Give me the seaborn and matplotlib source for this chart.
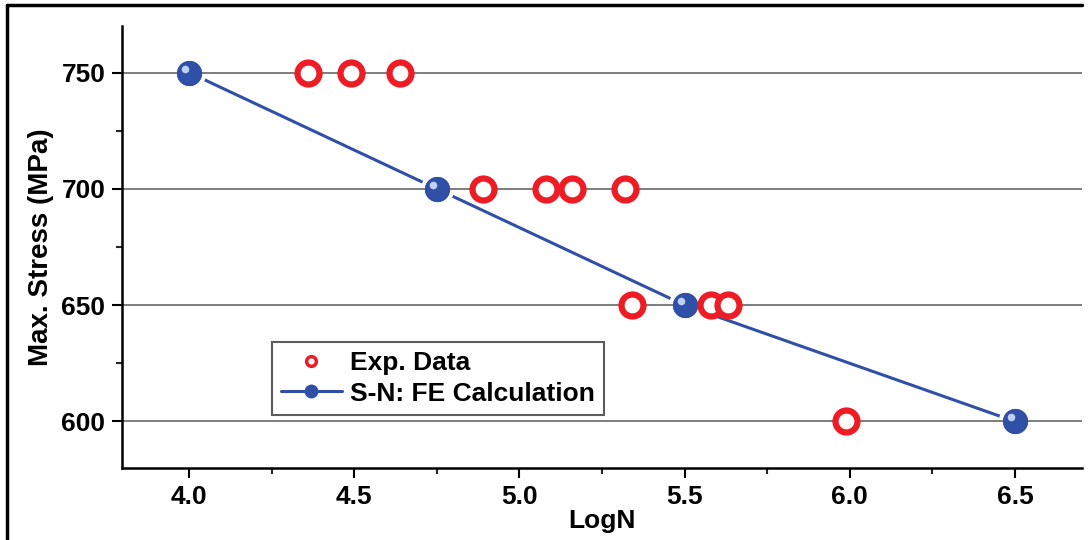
import numpy as np
import pandas as pd
import matplotlib
matplotlib.use("Agg")
import matplotlib.pyplot as plt
from matplotlib.lines import Line2D
from matplotlib.ticker import MultipleLocator, FormatStrFormatter
from matplotlib.transforms import offset_copy
import seaborn as sns

sns.set_theme(style="white")
plt.rcParams['font.family'] = ['Liberation Sans', 'DejaVu Sans']
plt.rcParams['font.weight'] = 'bold'
plt.rcParams['text.color'] = 'black'
plt.rcParams['axes.labelcolor'] = 'black'

# experimental data
exp_logn = [4.36, 4.49, 4.64, 4.89, 5.08, 5.16, 5.32, 5.34, 5.58, 5.63, 5.99]
exp_stress = [750, 750, 750, 700, 700, 700, 700, 650, 650, 650, 600]

# S-N FE calculation
fe_logn = [4.0, 4.75, 5.5, 6.5]
fe_stress = [750, 700, 650, 600]

df_exp = pd.DataFrame({'LogN': exp_logn, 'Stress': exp_stress})
df_fe = pd.DataFrame({'LogN': fe_logn, 'Stress': fe_stress})

W, H = 1092, 540
fig = plt.figure(figsize=(W / 100, H / 100), dpi=100)
ax = fig.add_axes([122 / W, (H - 468) / H, (1082 - 122) / W, (468 - 26) / H])

ax.set_xlim(3.797, 6.703)
ax.set_ylim(580, 770)

blue = '#3050a8'
red = '#ee1c24'

# line with white halo around markers (gap like the original)
sns.lineplot(data=df_fe, x='LogN', y='Stress', ax=ax, color=blue, lw=2.2,
             marker='o', markersize=21, markerfacecolor=blue,
             markeredgecolor='white', markeredgewidth=3, zorder=1, legend=False)

for yv in [600, 650, 700, 750]:
    ax.axhline(yv, color='#7d7d7d', lw=1.4, zorder=1.5)

# balls on top of grid lines
sns.scatterplot(data=df_fe, x='LogN', y='Stress', ax=ax, s=330, marker='o',
                color=blue, edgecolor=blue, linewidth=0, zorder=3, legend=False)
# small highlight on the balls
hl = offset_copy(ax.transData, fig=fig, x=-4, y=4, units='dots')
ax.scatter(df_fe['LogN'], df_fe['Stress'], s=30, color='#c0d0f4', linewidth=0,
           transform=hl, zorder=3.5)

sns.scatterplot(data=df_exp, x='LogN', y='Stress', ax=ax, s=250, marker='o',
                facecolor='white', edgecolor=red, linewidth=4.5, zorder=4, legend=False)

ax.xaxis.set_major_locator(MultipleLocator(0.5))
ax.xaxis.set_minor_locator(MultipleLocator(0.25))
ax.yaxis.set_major_locator(MultipleLocator(50))
ax.yaxis.set_minor_locator(MultipleLocator(25))
ax.xaxis.set_major_formatter(FormatStrFormatter('%.1f'))
ax.tick_params(axis='both', which='major', direction='out', length=7, width=1.5,
               labelsize=19, colors='black', bottom=True, left=True, pad=5)
ax.tick_params(axis='both', which='minor', direction='out', length=4, width=1.5,
               bottom=True, left=True)
for lab in ax.get_xticklabels() + ax.get_yticklabels():
    lab.set_fontweight('bold')

for side in ['top', 'right']:
    ax.spines[side].set_visible(False)
for side in ['left', 'bottom']:
    ax.spines[side].set_color('black')
    ax.spines[side].set_linewidth(1.8)

ax.set_xlabel('LogN', fontsize=19, fontweight='bold', labelpad=0)
ax.set_ylabel('Max. Stress (MPa)', fontsize=20, fontweight='bold', labelpad=5)

handles = [
    Line2D([], [], ls='none', marker='o', markersize=7, markerfacecolor='white',
           markeredgecolor=red, markeredgewidth=2.5),
    Line2D([], [], color=blue, lw=2.2, marker='o', markersize=9,
           markerfacecolor=blue, markeredgecolor=blue),
]
leg = ax.legend(handles, ['Exp. Data', 'S-N: FE Calculation'], loc='lower left',
                bbox_to_anchor=(0.156, 0.12), frameon=True, fancybox=False,
                borderpad=0.35, borderaxespad=0, handlelength=2.3, handletextpad=0.3,
                labelspacing=0.25, prop={'weight': 'bold', 'size': 19})
leg.get_frame().set_edgecolor('#333333')
leg.get_frame().set_linewidth(1.5)
for t in leg.get_texts():
    t.set_color('black')

# figure border (top and left)
fig.add_artist(Line2D([7 / W, 1082 / W], [1 - 5 / H, 1 - 5 / H],
                      transform=fig.transFigure, color='black', lw=2.5))
fig.add_artist(Line2D([7 / W, 7 / W], [0, 1 - 5 / H],
                      transform=fig.transFigure, color='black', lw=2.5))

fig.savefig('out.png', dpi=100)
